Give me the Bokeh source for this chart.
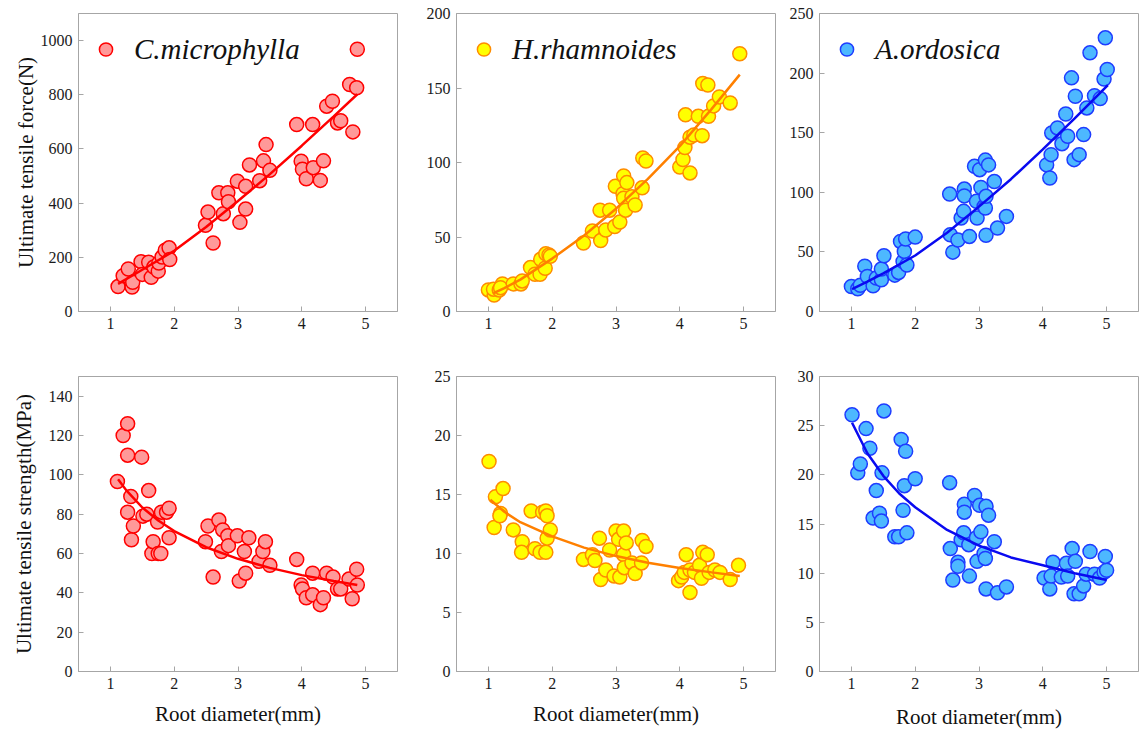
from bokeh.plotting import figure
from bokeh.layouts import column, row
from bokeh.models import Range1d, FixedTicker, Legend, LegendItem
from bokeh.embed import file_html
from bokeh.resources import INLINE

# ---------------- data ----------------
species = ["C.microphylla", "H.rhamnoides", "A.ordosica"]
x_ticks = [1, 2, 3, 4, 5]

# C.microphylla
cm_force_d = [1.12, 1.20, 1.28, 1.34, 1.35, 1.48, 1.50, 1.60, 1.64, 1.68, 1.75, 1.76, 1.81, 1.86, 1.92,
              1.93, 2.49, 2.53, 2.61, 2.70, 2.77, 2.84, 2.85, 2.99, 3.03, 3.12, 3.12, 3.18, 3.34, 3.40,
              3.44, 3.50, 3.92, 3.99, 4.01, 4.07, 4.17, 4.18, 4.29, 4.34, 4.39, 4.48, 4.56, 4.61, 4.75,
              4.80, 4.86, 4.87]
cm_force = [92, 132, 157, 90, 108, 184, 137, 182, 126, 164, 149, 179, 201, 226, 235,
            192, 318, 367, 253, 438, 361, 438, 405, 481, 329, 462, 378, 541, 483, 556,
            616, 521, 690, 555, 525, 490, 690, 531, 484, 556, 758, 776, 696, 704, 838,
            663, 826, 968]
cm_str_d = [1.11, 1.20, 1.27, 1.27, 1.27, 1.32, 1.33, 1.36, 1.49, 1.51, 1.57, 1.60, 1.65, 1.67, 1.74,
            1.75, 1.79, 1.80, 1.88, 1.92, 1.92, 2.49, 2.53, 2.61, 2.70, 2.74, 2.76, 2.84, 2.85, 2.99,
            3.02, 3.10, 3.12, 3.17, 3.33, 3.39, 3.43, 3.50, 3.92, 3.99, 4.01, 4.07, 4.17, 4.17, 4.29,
            4.34, 4.39, 4.49, 4.56, 4.61, 4.74, 4.79, 4.86, 4.87]
cm_str = [96.6, 120, 126, 110, 81, 89, 67, 74, 109, 79, 80, 92, 60, 66, 76,
          60, 60, 81, 81, 83, 68, 66, 74, 48, 77, 61, 72, 69, 64, 69,
          46, 61, 50, 68, 56, 61, 66, 54, 57, 44, 42, 37.5, 50, 39, 34,
          37.5, 50, 48, 42, 42, 47, 37, 52, 44]
cm_force_fit_d = [1.12, 1.5, 2.0, 2.5, 3.0, 3.5, 4.0, 4.5, 4.87]
cm_force_fit = [102, 154, 224, 312, 408, 507, 612, 720, 802]
cm_str_fit_d = [1.12, 1.25, 1.5, 1.75, 2.0, 2.5, 3.0, 3.5, 4.0, 4.5, 4.87]
cm_str_fit = [97.8, 92.1, 83.4, 76.8, 71.4, 63.2, 57.3, 52.7, 49.0, 46.0, 44.0]

# H.rhamnoides
hr_force_d = [1.00, 1.09, 1.08, 1.17, 1.22, 1.19, 1.39, 1.51, 1.53, 1.66, 1.73, 1.81, 1.82, 1.89, 1.90,
              1.95, 1.97, 2.49, 2.63, 2.75, 2.76, 2.84, 2.90, 2.98, 2.99, 3.06, 3.11, 3.12, 3.12, 3.15,
              3.17, 3.25, 3.30, 3.41, 3.42, 3.47, 4.00, 4.05, 4.08, 4.09, 4.16, 4.16, 4.22, 4.29, 4.35,
              4.36, 4.44, 4.45, 4.53, 4.62, 4.79, 4.94]
hr_force = [14.5, 11, 15, 14.5, 18.5, 16, 18.5, 18.5, 20.5, 29.5, 25, 25, 35, 29, 38.7,
            38, 37, 46, 54, 68, 47.6, 54.7, 68, 57, 84, 60, 79, 91, 76, 68,
            86.5, 77, 71.5, 83, 103, 101, 97, 102, 110, 132, 93, 117, 118.4, 131, 118,
            153, 152, 131, 138, 144, 140, 173]
hr_str_d = [1.01, 1.11, 1.09, 1.19, 1.18, 1.23, 1.39, 1.53, 1.52, 1.67, 1.73, 1.81, 1.85, 1.90, 1.90,
            1.92, 1.92, 1.97, 2.49, 2.63, 2.67, 2.74, 2.76, 2.84, 2.90, 2.97, 3.00, 3.04, 3.06, 3.12,
            3.12, 3.13, 3.16, 3.25, 3.30, 3.40, 3.41, 3.47, 3.98, 4.03, 4.07, 4.10, 4.16, 4.16, 4.23,
            4.31, 4.34, 4.36, 4.43, 4.46, 4.55, 4.63, 4.79, 4.92]
hr_str = [17.8, 14.8, 12.2, 13.4, 13.2, 15.5, 12.0, 11.0, 10.1, 13.6, 10.4, 10.1, 13.5, 13.6, 10.1,
          13.2, 11.3, 12.0, 9.5, 9.9, 9.4, 11.3, 7.8, 8.6, 10.3, 8.1, 11.9, 11.2, 8.0, 11.9,
          9.9, 8.8, 10.9, 9.2, 8.3, 9.2, 11.1, 10.6, 7.7, 8.0, 8.4, 9.9, 6.7, 8.6, 8.4,
          9.0, 7.9, 10.1, 9.9, 8.4, 8.6, 8.4, 7.8, 9.0]
hr_force_fit_d = [1.08, 1.25, 1.5, 2.0, 2.5, 3.0, 3.5, 4.0, 4.5, 4.94]
hr_force_fit = [12.3, 15.7, 21.4, 35.5, 51, 69, 89, 111, 136, 159]
hr_str_fit_d = [1.03, 1.25, 1.5, 2.0, 2.5, 3.0, 3.5, 4.0, 4.5, 4.94]
hr_str_fit = [14.56, 13.54, 12.65, 11.45, 10.5, 9.78, 9.22, 8.77, 8.4, 8.1]

# A.ordosica
ao_force_d = [1.00, 1.10, 1.14, 1.21, 1.25, 1.34, 1.39, 1.47, 1.47, 1.51, 1.68, 1.74, 1.77, 1.81, 1.83,
              1.85, 1.87, 2.00, 2.54, 2.55, 2.59, 2.67, 2.72, 2.76, 2.77, 2.77, 2.85, 2.93, 2.96, 2.97,
              3.01, 3.03, 3.08, 3.10, 3.10, 3.11, 3.11, 3.15, 3.24, 3.29, 3.43, 4.06, 4.11, 4.13, 4.14,
              4.23, 4.30, 4.36, 4.39, 4.45, 4.49, 4.51, 4.57, 4.64, 4.69, 4.74, 4.81, 4.90, 4.96, 4.98,
              5.01]
ao_force = [21, 19, 22, 38, 29.4, 21.6, 28, 26.6, 35.6, 46.8, 30.5, 32.8, 58.8, 42, 50.4,
            60.8, 39, 62.4, 98.5, 64.4, 49.8, 60, 78.4, 84, 102.7, 97, 63, 121.8, 92.4, 78.4,
            119, 104, 88, 86.8, 127, 96.6, 64, 123, 109, 70, 79.8, 123, 112, 131.6, 149.8,
            154, 140.8, 165.7, 147, 196, 127.4, 180.6, 131.6, 148.4, 170.8, 217, 181, 178.6, 195, 229.6,
            203]
ao_str_d = [1.01, 1.10, 1.14, 1.23, 1.29, 1.34, 1.39, 1.44, 1.47, 1.48, 1.51, 1.68, 1.74, 1.78, 1.81,
            1.83, 1.85, 1.87, 2.00, 2.54, 2.55, 2.59, 2.67, 2.67, 2.72, 2.76, 2.77, 2.77, 2.85, 2.84,
            2.93, 2.96, 2.97, 3.01, 3.03, 3.08, 3.10, 3.11, 3.11, 3.15, 3.24, 3.29, 3.43, 4.02, 4.11,
            4.13, 4.16, 4.29, 4.37, 4.39, 4.46, 4.49, 4.51, 4.57, 4.64, 4.68, 4.74, 4.81, 4.89, 4.96,
            5.00, 4.98]
ao_str = [26.1, 20.2, 21.1, 24.7, 22.7, 15.6, 18.4, 16.1, 15.3, 20.2, 26.5, 13.7, 13.7, 23.6, 16.4,
          18.9, 22.4, 14.1, 19.6, 19.2, 12.5, 9.3, 11.1, 10.7, 13.4, 14.1, 17.0, 16.2, 9.7, 12.9,
          17.9, 13.6, 11.2, 16.9, 14.2, 12.0, 11.5, 8.4, 16.8, 15.9, 13.2, 8.0, 8.6, 9.5, 8.4,
          9.7, 11.1, 9.6, 11.0, 9.7, 12.5, 7.9, 11.2, 7.9, 8.7, 9.9, 12.2, 9.9, 9.5, 10.1,
          10.3, 11.7]
ao_force_fit_d = [1.01, 1.25, 1.5, 2.0, 2.5, 3.0, 3.5, 4.0, 4.5, 5.02]
ao_force_fit = [18.8, 25, 32, 47, 66, 88, 111, 136, 162, 190]
ao_str_fit_d = [1.01, 1.25, 1.5, 1.75, 2.0, 2.5, 3.0, 3.5, 4.0, 4.5, 5.0]
ao_str_fit = [25.3, 22.2, 19.9, 18.1, 16.7, 14.4, 12.8, 11.6, 10.8, 10.0, 9.3]

force_ticks = [[0, 200, 400, 600, 800, 1000], [0, 50, 100, 150, 200], [0, 50, 100, 150, 200, 250]]
force_top = [1100, 200, 250]
str_ticks = [[0, 20, 40, 60, 80, 100, 120, 140], [0, 5, 10, 15, 20, 25], [0, 5, 10, 15, 20, 25, 30]]
str_top = [150, 25, 30]

# ---------------- styles ----------------
FILL = ["#FF9999", "#FFFF00", "#4DB8FF"]
EDGE = ["#FF0000", "#FF8C00", "#1E3CFF"]
FITC = ["#FF0000", "#FF8000", "#0A0AF0"]
FRAME = "#A6A6A6"
FONT = "Liberation Serif"

widths = [407, 378, 358]
left_b = [78, 49, 34]
right_b = [10, 10, 5]
xlabel_standoff = [10, 10, 13]


def make(col, top_row, xs, ys, fx, fy, ticks, ytop):
    if top_row:
        h, tb, bb = 341, 13, 30
    else:
        h, tb, bb = 390, 35, 57
    p = figure(width=widths[col], height=h, output_backend="svg", toolbar_location=None,
               x_range=Range1d(0.5, 5.5), y_range=Range1d(0, ytop),
               min_border_left=left_b[col], min_border_right=right_b[col],
               min_border_top=tb, min_border_bottom=bb)
    p.grid.visible = False
    p.background_fill_color = "white"
    p.border_fill_color = "white"
    p.outline_line_color = FRAME
    p.outline_line_width = 1
    for ax in (p.xaxis[0], p.yaxis[0]):
        ax.axis_line_color = FRAME
        ax.major_tick_line_color = FRAME
        ax.major_tick_in = 5
        ax.major_tick_out = 0
        ax.minor_tick_line_color = None
        ax.major_label_text_font = FONT
        ax.major_label_text_font_size = "16px"
        ax.major_label_text_color = "#1a1a1a"
        ax.major_label_standoff = 6
        ax.axis_label_text_font = FONT
        ax.axis_label_text_font_size = "21px"
        ax.axis_label_text_font_style = "normal"
        ax.axis_label_text_color = "#111111"
    p.xaxis[0].ticker = FixedTicker(ticks=x_ticks)
    p.yaxis[0].ticker = FixedTicker(ticks=ticks)

    sc = p.scatter(xs, ys, size=14, marker="circle", fill_color=FILL[col],
                   line_color=EDGE[col], line_width=1.5)
    p.line(fx, fy, line_color=FITC[col], line_width=2.5)

    if col == 0:
        if top_row:
            p.yaxis[0].axis_label = "Ultimate tensile force(N)"
            p.yaxis[0].axis_label_standoff = 0
        else:
            p.yaxis[0].axis_label = "Ultimate tensile strength(MPa)"
            p.yaxis[0].axis_label_standoff = 10
    if not top_row:
        p.xaxis[0].axis_label = "Root diameter(mm)"
        p.xaxis[0].axis_label_standoff = xlabel_standoff[col]

    if top_row:
        leg = Legend(items=[LegendItem(label=species[col], renderers=[sc])],
                     location="top_left", margin=11, padding=0,
                     glyph_width=33, glyph_height=50, label_standoff=12,
                     border_line_color=None, background_fill_alpha=0,
                     label_text_font=FONT, label_text_font_style="italic",
                     label_text_font_size="29px", label_text_color="#111111")
        p.add_layout(leg)
    return p


force_sets = [(cm_force_d, cm_force, cm_force_fit_d, cm_force_fit),
              (hr_force_d, hr_force, hr_force_fit_d, hr_force_fit),
              (ao_force_d, ao_force, ao_force_fit_d, ao_force_fit)]
str_sets = [(cm_str_d, cm_str, cm_str_fit_d, cm_str_fit),
            (hr_str_d, hr_str, hr_str_fit_d, hr_str_fit),
            (ao_str_d, ao_str, ao_str_fit_d, ao_str_fit)]

top = [make(i, True, *force_sets[i], force_ticks[i], force_top[i]) for i in range(3)]
bottom = [make(i, False, *str_sets[i], str_ticks[i], str_top[i]) for i in range(3)]

layout = column(row(*top), row(*bottom))
open("out.html", "w").write(file_html(layout, INLINE))
